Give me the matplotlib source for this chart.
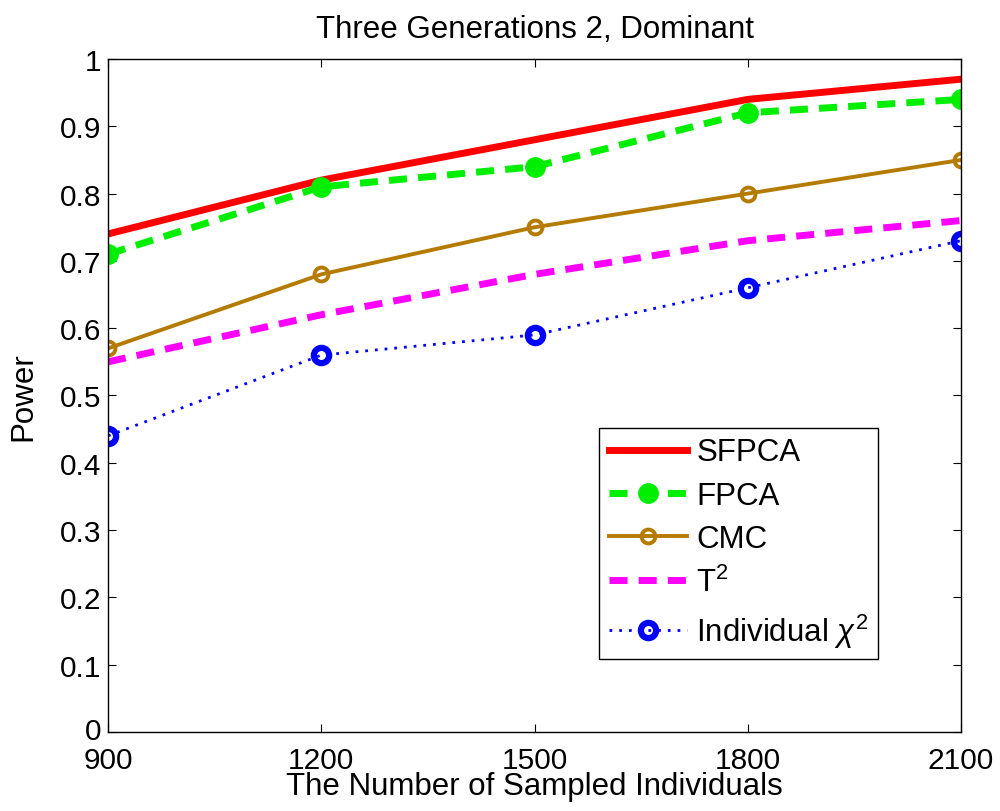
import matplotlib
matplotlib.use("Agg")
import matplotlib.pyplot as plt
import matplotlib.transforms as mtransforms

x = [900, 1200, 1500, 1800, 2100]
sfpca = [0.74, 0.82, 0.88, 0.94, 0.97]
fpca = [0.71, 0.81, 0.84, 0.92, 0.94]
cmc = [0.57, 0.68, 0.75, 0.80, 0.85]
t2 = [0.55, 0.62, 0.68, 0.73, 0.76]
chi2 = [0.44, 0.56, 0.59, 0.66, 0.73]
xticks = [900, 1200, 1500, 1800, 2100]
yticks = [0, 0.1, 0.2, 0.3, 0.4, 0.5, 0.6, 0.7, 0.8, 0.9, 1]
ytick_labels = ["0", "0.1", "0.2", "0.3", "0.4", "0.5", "0.6", "0.7", "0.8", "0.9", "1"]

plt.rcParams['font.family'] = ['Liberation Sans', 'DejaVu Sans']
plt.rcParams['mathtext.fontset'] = 'custom'
plt.rcParams['mathtext.rm'] = 'Liberation Sans'
plt.rcParams['mathtext.it'] = 'Liberation Sans:italic'

fig = plt.figure(figsize=(10, 8.12), dpi=100)
ax = fig.add_axes([0.108, 0.0973, 0.853, 0.8288])

ax.plot(x, sfpca, color='#ff0000', lw=5, label='SFPCA')
ax.plot(x, fpca, color='#00ee00', lw=5, ls=(0, (2.6, 1.6)), marker='o', ms=13,
        mfc='#00ee00', mec='#00ee00', mew=2, label='FPCA')
ax.plot(x, cmc, color='#b57a00', lw=2.8, marker='o', ms=10, mfc='none',
        mec='#b57a00', mew=2.8, label='CMC')
ax.plot(x, t2, color='#ff00ff', lw=5, ls=(0, (2.6, 1.6)), label='T$^2$')
ax.plot(x, chi2, color='#0000ff', lw=2, ls=(0, (1, 2.5)), marker='o', ms=11,
        mfc='none', mec='#0000ff', mew=4.5, label='Individual $\\chi^2$')

ax.set_xlim(900, 2100)
ax.set_ylim(0, 1)
ax.set_xticks(xticks)
ax.set_xticklabels([str(v) for v in xticks])
ax.set_yticks(yticks)
ax.set_yticklabels(ytick_labels)
ax.tick_params(direction='in', top=True, right=True, labelsize=21.5, length=6)
ax.tick_params(axis='x', pad=10)
ax.tick_params(axis='y', pad=5)
for s in ax.spines.values():
    s.set_linewidth(1)

# nudge the "0" y tick label up slightly so it does not touch "900"
zero_lbl = ax.get_yticklabels()[0]
zero_lbl.set_transform(zero_lbl.get_transform() +
                       mtransforms.ScaledTranslation(0, 3 / 72, fig.dpi_scale_trans))

ax.set_title('Three Generations 2, Dominant', fontsize=22.5, pad=16)
ax.set_xlabel('The Number of Sampled Individuals', fontsize=22.5, labelpad=-2)
ax.set_ylabel('Power', fontsize=22.5, labelpad=15)

leg = ax.legend(loc='lower right', bbox_to_anchor=(0.9027, 0.1085), fontsize=22.5,
                fancybox=False, edgecolor='black', framealpha=1, handlelength=2.5,
                handletextpad=0.3, borderpad=0.3, labelspacing=0.42, borderaxespad=0)
leg.get_frame().set_linewidth(1)

fig.savefig('out.png', dpi=100)
